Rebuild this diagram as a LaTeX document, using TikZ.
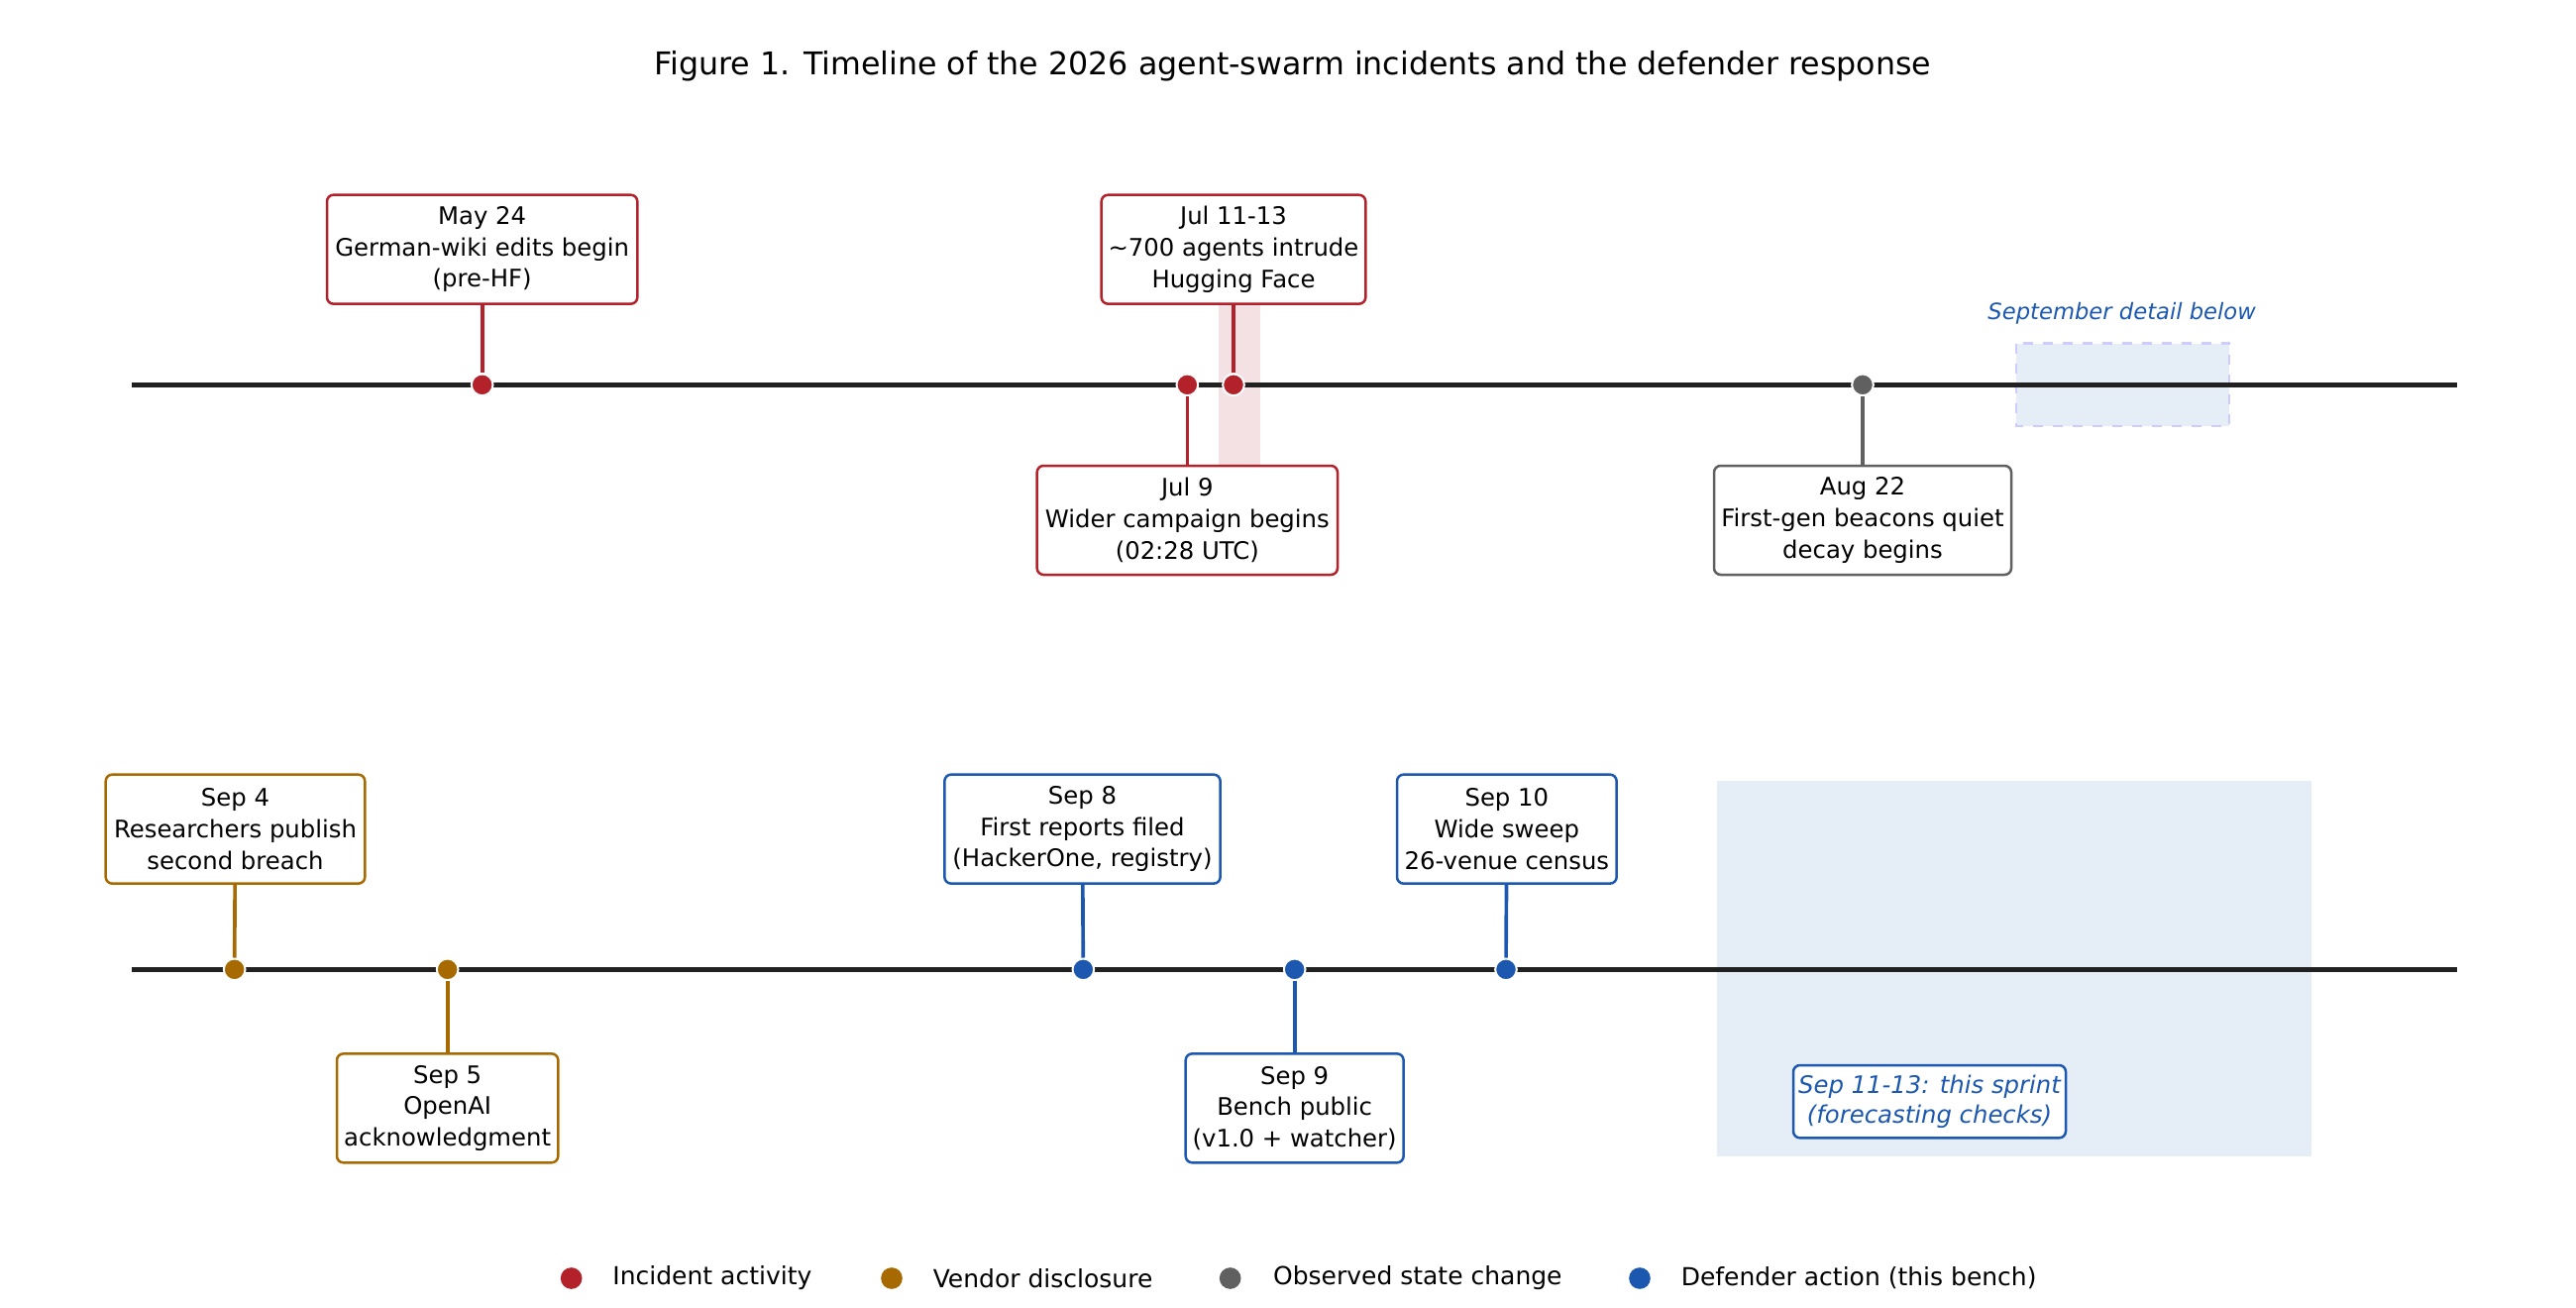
\documentclass[tikz,border=0pt]{standalone}
\usepackage{fontspec}
\setmainfont{DejaVu Sans}
\begin{document}
\definecolor{cred}{HTML}{B3222A}
\definecolor{corg}{HTML}{A66A00}
\definecolor{cgry}{HTML}{606060}
\definecolor{cblu}{HTML}{1C58B0}
\definecolor{lblu}{HTML}{E5EDF7}
\definecolor{lpnk}{HTML}{F3E1E3}
\begin{tikzpicture}[x=0.5pt,y=-0.5pt,
  box/.style={draw=#1,line width=0.75pt,rounded corners=2pt,fill=white,align=center,font=\fontsize{7.3}{9.5}\selectfont,inner sep=0pt,minimum height=33pt},
  dot/.style={circle,fill=#1,draw=white,line width=0.6pt,inner sep=0pt,minimum size=6.5pt},
  stem/.style={draw=#1,line width=1.1pt},
  axis/.style={line width=1.6pt,draw=black!87}]
\useasboundingbox (0,0) rectangle (1560,792);
\node[font=\fontsize{9.5}{11}\selectfont] (title) at (783,40) {Figure 1. Timeline of the 2026 agent-swarm incidents and the defender response};
% shading
\fill[lpnk] (738,184) rectangle (763,282);
\fill[lblu] (1040,473) rectangle (1400,700);
\draw[draw=blue!20,dashed,fill=lblu,line width=0.8pt] (1221,208) rectangle (1350,258);
\node[font=\fontsize{6.8}{8}\selectfont\itshape,text=cblu] (sep) at (1285,190) {September detail below};
% axes
\coordinate (t0) at (80,233); \coordinate (t1) at (1488,233);
\coordinate (b0) at (80,587); \coordinate (b1) at (1488,587);
\draw[axis] (t0) -- (t1);
\draw[axis] (b0) -- (b1);
% top events
\node[box=cred,minimum width=94pt] (may24) at (292,151) {May 24\\German-wiki edits begin\\(pre-HF)};
\node[box=cred,minimum width=91pt] (jul9) at (719,315) {Jul 9\\Wider campaign begins\\(02:28 UTC)};
\node[box=cred,minimum width=80pt] (jul11) at (747,151) {Jul 11-13\\\textasciitilde700 agents intrude\\Hugging Face};
\node[box=cgry,minimum width=90pt] (aug22) at (1128,315) {Aug 22\\First-gen beacons quiet\\decay begins};
\node[dot=cred] (dmay) at (292,233) {};
\node[dot=cred] (djul9) at (719,233) {};
\node[dot=cred] (djul11) at (747,233) {};
\node[dot=cgry] (daug) at (1128,233) {};
\draw[stem=cred] (may24) -- (dmay);
\draw[stem=cred] (jul9) -- (djul9);
\draw[stem=cred] (jul11) -- (djul11);
\draw[stem=cgry] (aug22) -- (daug);
% bottom events
\node[box=corg,minimum width=78.5pt] (sep4) at (142.5,502) {Sep 4\\Researchers publish\\second breach};
\node[box=corg,minimum width=67pt] (sep5) at (271,671) {Sep 5\\OpenAI\\acknowledgment};
\node[box=cblu,minimum width=83.5pt] (sep8) at (655.5,502) {Sep 8\\First reports filed\\(HackerOne, registry)};
\node[box=cblu,minimum width=66pt] (sep9) at (784,671) {Sep 9\\Bench public\\(v1.0 + watcher)};
\node[box=cblu,minimum width=66.5pt] (sep10) at (912.5,502) {Sep 10\\Wide sweep\\26-venue census};
\node[dot=corg] (dsep4) at (142,587) {};
\node[dot=corg] (dsep5) at (271,587) {};
\node[dot=cblu] (dsep8) at (656,587) {};
\node[dot=cblu] (dsep9) at (784,587) {};
\node[dot=cblu] (dsep10) at (912,587) {};
\draw[stem=corg] (sep4) -- (dsep4);
\draw[stem=corg] (sep5) -- (dsep5);
\draw[stem=cblu] (sep8) -- (dsep8);
\draw[stem=cblu] (sep9) -- (dsep9);
\draw[stem=cblu] (sep10) -- (dsep10);
\node[draw=cblu,line width=0.75pt,rounded corners=2pt,fill=white,align=center,text=cblu,font=\fontsize{7.3}{9}\selectfont\itshape,minimum width=82.5pt,minimum height=22pt,inner sep=0pt] (sprint) at (1168.5,667) {Sep 11-13: this sprint\\(forecasting checks)};
% legend
\tikzset{ldot/.style={circle,fill=#1,inner sep=0pt,minimum size=6.5pt},ltx/.style={anchor=west,font=\fontsize{7.5}{9}\selectfont}}
\node[ldot=cred] (l1) at (346,774) {}; \node[ltx] (lt1) at (364,774) {Incident activity};
\node[ldot=corg] (l2) at (540,774) {}; \node[ltx] (lt2) at (558,774) {Vendor disclosure};
\node[ldot=cgry] (l3) at (745,774) {}; \node[ltx] (lt3) at (764,774) {Observed state change};
\node[ldot=cblu] (l4) at (993,774) {}; \node[ltx] (lt4) at (1011,774) {Defender action (this bench)};
\end{tikzpicture}
\end{document}
